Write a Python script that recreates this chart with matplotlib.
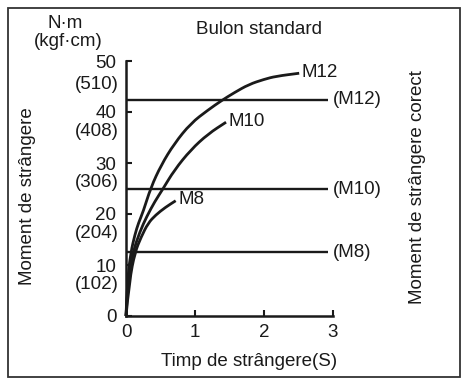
import matplotlib
matplotlib.use("Agg")
import matplotlib.pyplot as plt
from matplotlib.patches import Rectangle, PathPatch
from matplotlib.path import Path

plt.rcParams["font.family"] = ["Liberation Sans", "DejaVu Sans"]

# curves (time s, torque N·m)
m12_t = [0, 0.02, 0.07, 0.13, 0.18, 0.25, 0.36, 0.51, 0.70, 0.94, 1.19, 1.38, 1.57, 1.78, 2.00, 2.17, 2.51]
m12_m = [0, 7.0, 12.5, 16.0, 18.2, 20.5, 25.2, 29.6, 33.8, 37.8, 40.4, 42.2, 43.8, 45.4, 46.4, 47.0, 47.6]
m10_t = [0, 0.03, 0.10, 0.20, 0.30, 0.42, 0.53, 0.70, 0.94, 1.19, 1.45]
m10_m = [0, 7.0, 12.5, 16.5, 19.5, 22.5, 24.8, 28.6, 32.6, 35.7, 38.0]
m8_t = [0, 0.05, 0.13, 0.22, 0.32, 0.43, 0.57, 0.72]
m8_m = [0, 7.0, 12.5, 15.5, 18.2, 19.8, 21.3, 22.6]

curve_names = ["M12", "M10", "M8"]
# correct tightening torque levels
correct_names = ["(M12)", "(M10)", "(M8)"]
correct_m = [42.4, 24.9, 12.5]

y_ticks = [0, 10, 20, 30, 40, 50]
kgf_labels = ["(102)", "(204)", "(306)", "(408)", "(510)"]
x_ticks = [0, 1, 2, 3]

W, H = 463, 386
FS = 13.5
INK = "#1a1a1a"
fig = plt.figure(figsize=(W / 100, H / 100), dpi=100)


def fx(px):
    return px / W


def fy(px):
    return 1 - px / H


def smooth_path(xs, ys):
    # quadratic segments through midpoints, control points at the read values
    verts = [(xs[0], ys[0])]
    codes = [Path.MOVETO]
    for i in range(1, len(xs) - 1):
        mx = (xs[i] + xs[i + 1]) / 2
        my = (ys[i] + ys[i + 1]) / 2
        verts += [(xs[i], ys[i]), (mx, my)]
        codes += [Path.CURVE3, Path.CURVE3]
    verts.append((xs[-1], ys[-1]))
    codes.append(Path.LINETO)
    return Path(verts, codes)


# outer frame
fig.patches.append(Rectangle((fx(8), fy(377)), fx(452), 369 / H, transform=fig.transFigure,
                             fill=False, edgecolor="#333333", lw=1.3))

ax = fig.add_axes([fx(126), fy(316), fx(333 - 126), (316 - 61) / H])
ax.set_xlim(0, 3)
ax.set_ylim(0, 50)
for s in ["top", "right"]:
    ax.spines[s].set_visible(False)
for s in ["left", "bottom"]:
    ax.spines[s].set_linewidth(1.8)
    ax.spines[s].set_color(INK)

ax.set_yticks(y_ticks)
ax.set_yticklabels([str(v) for v in y_ticks])
ax.set_xticks(x_ticks)
ax.set_xticklabels([str(v) for v in x_ticks])
ax.tick_params(axis="y", direction="in", length=4, width=1.5, labelsize=FS, pad=7, colors=INK)
ax.tick_params(axis="x", direction="in", length=4, width=1.5, labelsize=FS, pad=6, colors=INK)

# kgf·cm secondary labels under each tick number
for v, lab in zip(y_ticks[1:], kgf_labels):
    off = 4.7 if v == 50 else 3.8
    ax.text(-0.10, v - off, lab, ha="right", va="center", fontsize=FS,
            color=INK, clip_on=False)

for t, m, name in zip([m12_t, m10_t, m8_t], [m12_m, m10_m, m8_m], curve_names):
    ax.add_patch(PathPatch(smooth_path(t, m), fill=False, edgecolor=INK, lw=2.0,
                           clip_on=False, capstyle="butt"))
    ax.text(t[-1] + 0.04, m[-1] + 0.2, name, ha="left", va="center", fontsize=FS, color=INK)

for m, name in zip(correct_m, correct_names):
    ax.plot([0, 2.93], [m, m], color=INK, lw=1.7, clip_on=False, solid_capstyle="butt")
    ax.text(3.0, m, name, ha="left", va="center", fontsize=FS, color=INK)

fig.text(fx(259), fy(30), "Bulon standard", ha="center", va="center", fontsize=FS, color=INK)
fig.text(fx(65), fy(24), "N·m", ha="center", va="center", fontsize=FS, color=INK)
fig.text(fx(68), fy(42), "(kgf·cm)", ha="center", va="center", fontsize=FS, color=INK)
fig.text(fx(28), fy(196), "Moment de strângere", rotation=90, ha="center", va="center",
         fontsize=FS, color=INK)
fig.text(fx(418), fy(187), "Moment de strângere corect", rotation=90, ha="center", va="center",
         fontsize=FS, color=INK)
fig.text(fx(249), fy(362), "Timp de strângere(S)", ha="center", va="center", fontsize=FS,
         color=INK)

fig.savefig("out.png", dpi=100)
